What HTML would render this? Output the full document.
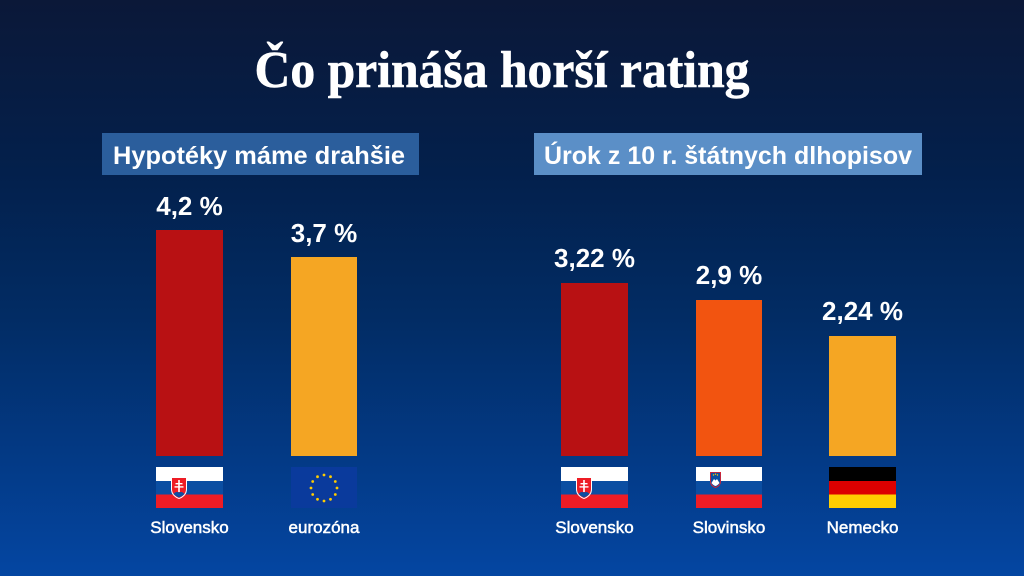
<!DOCTYPE html>
<html>
<head>
<meta charset="utf-8">
<style>
html,body{margin:0;padding:0;width:1024px;height:576px;overflow:hidden;}
svg{display:block;}
</style>
</head>
<body>
<svg width="1024" height="576" viewBox="0 0 1024 576" xmlns="http://www.w3.org/2000/svg">
<defs>
<linearGradient id="bg" x1="0" y1="0" x2="0" y2="1">
<stop offset="0" stop-color="#0b1838"/>
<stop offset="0.3" stop-color="#03204c"/>
<stop offset="0.55" stop-color="#022c64"/>
<stop offset="0.8" stop-color="#033a86"/>
<stop offset="1" stop-color="#0446a2"/>
</linearGradient>
<g id="skshield">
<path d="M0,0 H16 V12 Q16,19 8,22 Q0,19 0,12 Z" fill="#fff"/>
<path d="M1,1 H15 V12 Q15,18 8,21 Q1,18 1,12 Z" fill="#ee1c25"/>
<rect x="7.2" y="3" width="1.6" height="12" fill="#fff"/>
<rect x="4.5" y="6" width="7" height="1.4" fill="#fff"/>
<rect x="3.5" y="9.2" width="9" height="1.4" fill="#fff"/>
<path d="M2.5,17 Q5,14 8,15.5 Q11,14 13.5,17 Q11,19.5 8,20.5 Q5,19.5 2.5,17Z" fill="#0b4ea2"/>
</g>
<g id="skflag">
<rect x="0" y="0" width="67" height="14" fill="#ffffff"/>
<rect x="0" y="14" width="67" height="13.5" fill="#0b4ea2"/>
<rect x="0" y="27.5" width="67" height="13.5" fill="#ee1c25"/>
<use href="#skshield" x="15" y="10"/>
</g>
</defs>
<rect width="1024" height="576" fill="url(#bg)"/>

<!-- Title -->
<text x="502" y="87" text-anchor="middle" font-family="'Liberation Serif', serif" font-weight="bold" font-size="52" fill="#fff" stroke="#fff" stroke-width="0.6" textLength="495" lengthAdjust="spacingAndGlyphs">Čo prináša horší rating</text>

<!-- Section headers -->
<rect x="102" y="133" width="317" height="42" fill="#2b5e9c"/>
<text x="113" y="164" font-family="'Liberation Sans', sans-serif" font-weight="bold" font-size="25" fill="#fff" textLength="292" lengthAdjust="spacingAndGlyphs">Hypotéky máme drahšie</text>

<rect x="534" y="133" width="388" height="42" fill="#5b8fc7"/>
<text x="544" y="164" font-family="'Liberation Sans', sans-serif" font-weight="bold" font-size="25" fill="#fff" textLength="368" lengthAdjust="spacingAndGlyphs">Úrok z 10 r. štátnych dlhopisov</text>

<!-- Bars left -->
<rect x="156" y="230" width="67" height="226" fill="#b81113"/>
<rect x="291" y="257" width="66" height="199" fill="#f5a623"/>
<!-- Bars right -->
<rect x="561" y="283" width="67" height="173" fill="#b81113"/>
<rect x="696" y="300" width="66" height="156" fill="#f25410"/>
<rect x="829" y="336" width="67" height="120" fill="#f5a623"/>

<!-- Value labels -->
<g font-family="'Liberation Sans', sans-serif" font-weight="bold" font-size="26" fill="#fff" text-anchor="middle">
<text x="189.5" y="215">4,2 %</text>
<text x="324" y="242">3,7 %</text>
<text x="594.5" y="267">3,22 %</text>
<text x="729" y="284">2,9 %</text>
<text x="862.5" y="320">2,24 %</text>
</g>

<!-- Flags -->
<use href="#skflag" x="156" y="467"/>
<use href="#skflag" x="561" y="467"/>

<!-- EU flag -->
<rect x="291" y="467" width="66" height="41" fill="#0a3a9c"/>
<g fill="#ffcc00">
<circle cx="324" cy="475" r="1.4"/>
<circle cx="330.5" cy="476.7" r="1.4"/>
<circle cx="335.3" cy="481.5" r="1.4"/>
<circle cx="337" cy="488" r="1.4"/>
<circle cx="335.3" cy="494.5" r="1.4"/>
<circle cx="330.5" cy="499.3" r="1.4"/>
<circle cx="324" cy="501" r="1.4"/>
<circle cx="317.5" cy="499.3" r="1.4"/>
<circle cx="312.7" cy="494.5" r="1.4"/>
<circle cx="311" cy="488" r="1.4"/>
<circle cx="312.7" cy="481.5" r="1.4"/>
<circle cx="317.5" cy="476.7" r="1.4"/>
</g>

<!-- Slovenia flag -->
<rect x="696" y="467" width="66" height="14" fill="#ffffff"/>
<rect x="696" y="481" width="66" height="13.5" fill="#0b4ea2"/>
<rect x="696" y="494.5" width="66" height="13.5" fill="#ee1c25"/>
<path d="M710,472 H721 V481 Q721,486 715.5,488 Q710,486 710,481 Z" fill="#ee1c25"/>
<path d="M710.8,472.8 H720.2 V481 Q720.2,485.3 715.5,487.1 Q710.8,485.3 710.8,481 Z" fill="#0b4ea2"/>
<path d="M711.5,483 L714,479 L715.5,480.5 L717,479 L719.5,483 Q717.5,485.5 715.5,486 Q713.5,485.5 711.5,483Z" fill="#fff"/>
<circle cx="713.5" cy="475" r="0.7" fill="#ffcc00"/>
<circle cx="715.5" cy="474.2" r="0.7" fill="#ffcc00"/>
<circle cx="717.5" cy="475" r="0.7" fill="#ffcc00"/>

<!-- Germany flag -->
<rect x="829" y="467" width="67" height="14" fill="#000000"/>
<rect x="829" y="481" width="67" height="13.5" fill="#dd0000"/>
<rect x="829" y="494.5" width="67" height="13.5" fill="#ffce00"/>

<!-- Country labels -->
<g font-family="'Liberation Sans', sans-serif" font-size="17" fill="#fff" stroke="#fff" stroke-width="0.5" text-anchor="middle">
<text x="189.5" y="533">Slovensko</text>
<text x="324" y="533">eurozóna</text>
<text x="594.5" y="533">Slovensko</text>
<text x="729" y="533">Slovinsko</text>
<text x="862.5" y="533">Nemecko</text>
</g>
</svg>
</body>
</html>
